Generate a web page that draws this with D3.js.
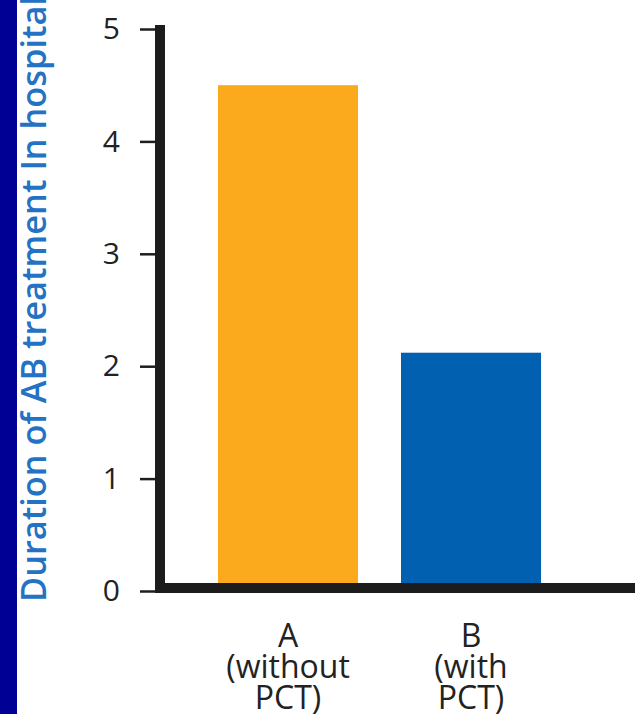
<!DOCTYPE html>
<html>
<head>
<meta charset="utf-8">
<script src="https://cdn.jsdelivr.net/npm/d3@7"></script>
<style>
  html, body { margin: 0; padding: 0; background: #ffffff; }
  svg { display: block; }
</style>
</head>
<body>
<script>
// Groups, their label lines and values (days of antibiotic treatment)
const categories = ["A", "B"];
const categoryLines = [["A", "(without", "PCT)"], ["B", "(with", "PCT)"]];
const values = [4.5, 2.12];
const barColors = ["#FAAA1C", "#0260B0"];
const yTicks = [0, 1, 2, 3, 4, 5];
const yTitle = "Duration of AB treatment In hospital";

const W = 635, H = 714;
const svg = d3.select("body").append("svg").attr("width", W).attr("height", H);

svg.append("rect").attr("width", W).attr("height", H).attr("fill", "#ffffff");
// navy side strip
svg.append("rect").attr("x", 0).attr("y", 0).attr("width", 17).attr("height", H).attr("fill", "#000094");

const axisX = 160;   // centre of the vertical axis line
const y = d3.scaleLinear().domain([0, 5]).range([591, 29]);
const x = d3.scaleBand().domain(categories).range([axisX, 599])
  .paddingInner(0.235).paddingOuter(0.317);

// bars
svg.selectAll("rect.bar").data(categories).join("rect")
  .attr("class", "bar")
  .attr("x", d => x(d))
  .attr("width", x.bandwidth())
  .attr("y", (d, i) => y(values[i]))
  .attr("height", (d, i) => y(0) - y(values[i]))
  .attr("fill", (d, i) => barColors[i]);

// y axis ticks and labels
const yAxis = d3.axisLeft(y).tickValues(yTicks).tickSize(15).tickPadding(20).tickFormat(d3.format("d"));
const gy = svg.append("g").attr("transform", `translate(${axisX - 5},0)`).call(yAxis);
gy.select(".domain").remove();
gy.selectAll(".tick line").attr("stroke", "#1e1e1e").attr("stroke-width", 2.5);
gy.selectAll(".tick text")
  .attr("fill", "#222")
  .style("font-family", "'Open Sans', sans-serif")
  .style("font-size", "30px");

// heavy axis lines
svg.append("line").attr("x1", axisX).attr("x2", axisX).attr("y1", 25).attr("y2", 593)
  .attr("stroke", "#1c1c1c").attr("stroke-width", 10);
svg.append("line").attr("x1", axisX - 5).attr("x2", W).attr("y1", 588).attr("y2", 588)
  .attr("stroke", "#1c1c1c").attr("stroke-width", 10);

// category labels
const xl = svg.append("g")
  .style("font-family", "'Open Sans', sans-serif")
  .style("font-size", "32px")
  .attr("fill", "#222")
  .attr("text-anchor", "middle");
categories.forEach((c, i) => {
  const t = xl.append("text").attr("x", x(c) + x.bandwidth() / 2).attr("y", 647);
  categoryLines[i].forEach((line, j) => {
    t.append("tspan").attr("x", x(c) + x.bandwidth() / 2).attr("dy", j === 0 ? 0 : 31).text(line);
  });
});

// y axis title
svg.append("text")
  .attr("transform", "translate(46,602) rotate(-90)")
  .attr("text-anchor", "start")
  .attr("fill", "#2472C4")
  .style("font-family", "'Open Sans', sans-serif")
  .style("font-weight", "600")
  .style("font-size", "35px")
  .attr("textLength", 606)
  .attr("lengthAdjust", "spacingAndGlyphs")
  .text(yTitle);
</script>
</body>
</html>
